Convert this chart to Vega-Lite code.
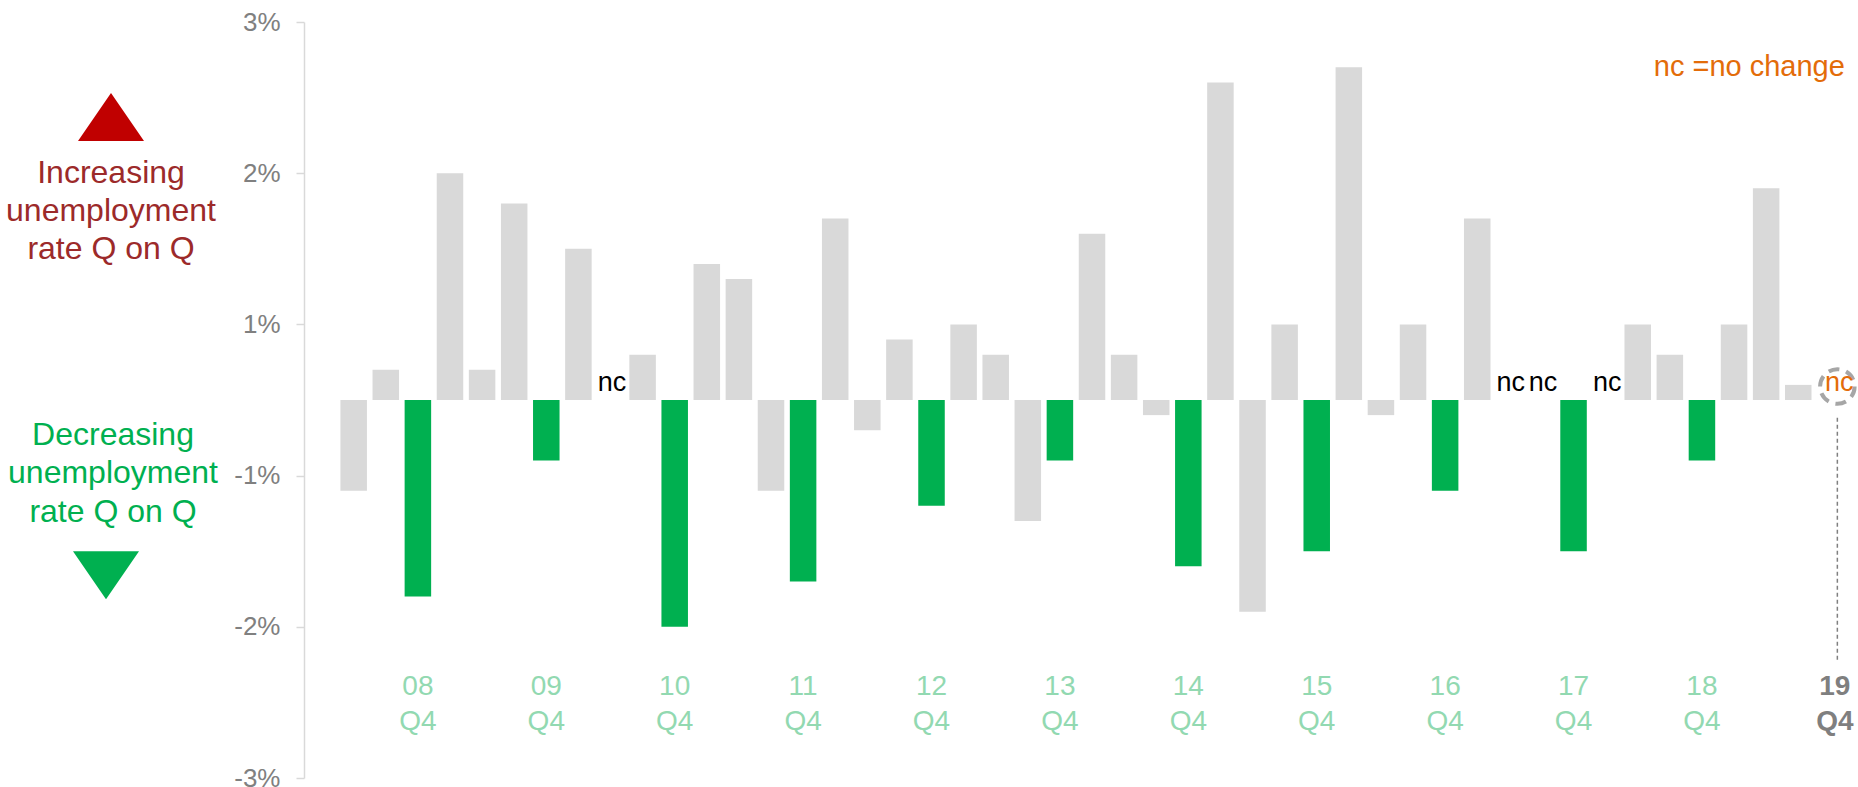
{
  "$schema": "https://vega.github.io/schema/vega-lite/v6.json",
  "padding": {"left": 0, "top": 9, "right": 0, "bottom": 0},
  "background": "white",
  "spacing": 11,
  "config": {"view": {"stroke": null}, "font": "Liberation Sans"},
  "hconcat": [
    {
      "width": 222,
      "height": 756,
      "data": {"values": [
        {"dir": "up", "label": "Increasing\nunemployment\nrate Q on Q"},
        {"dir": "down", "label": "Decreasing\nunemployment\nrate Q on Q"}
      ]},
      "layer": [
        {
          "transform": [{"filter": "datum.dir == 'up'"}],
          "mark": {"type": "point", "shape": "M-1,0.727L0,-0.727L1,0.727Z", "size": 4356, "filled": true, "color": "#c00000", "opacity": 1},
          "encoding": {"y": {"datum": 1.872, "type": "quantitative", "scale": {"domain": [-2.5, 2.5], "nice": false}, "axis": null}}
        },
        {
          "transform": [{"filter": "datum.dir == 'up'"}],
          "mark": {"type": "text", "fontSize": 32, "lineBreak": "\n", "lineHeight": 38, "baseline": "alphabetic", "align": "center", "color": "#9c2a2a"},
          "encoding": {"y": {"datum": 1.436, "type": "quantitative", "axis": null}, "text": {"field": "label"}}
        },
        {
          "transform": [{"filter": "datum.dir == 'down'"}],
          "mark": {"type": "text", "fontSize": 32, "lineBreak": "\n", "lineHeight": 38.5, "baseline": "alphabetic", "align": "center", "color": "#00b050", "dx": 2},
          "encoding": {"y": {"datum": -0.296, "type": "quantitative", "axis": null}, "text": {"field": "label"}}
        },
        {
          "transform": [{"filter": "datum.dir == 'down'"}],
          "mark": {"type": "point", "shape": "M-1,-0.727L1,-0.727L0,0.727Z", "size": 4356, "filled": true, "color": "#00b050", "opacity": 1, "xOffset": -5},
          "encoding": {"y": {"datum": -1.159, "type": "quantitative", "axis": null}}
        }
      ]
    },
    {
      "width": 1555,
      "height": 756,
      "data": {"values": [
        {"q": "08Q2", "v": -0.6, "kind": "other"},
        {"q": "08Q3", "v": 0.2, "kind": "other"},
        {"q": "08Q4", "v": -1.3, "kind": "Q4", "lbl": "08\nQ4"},
        {"q": "09Q1", "v": 1.5, "kind": "other"},
        {"q": "09Q2", "v": 0.2, "kind": "other"},
        {"q": "09Q3", "v": 1.3, "kind": "other"},
        {"q": "09Q4", "v": -0.4, "kind": "Q4", "lbl": "09\nQ4"},
        {"q": "10Q1", "v": 1.0, "kind": "other"},
        {"q": "10Q2", "v": 0, "kind": "other"},
        {"q": "10Q3", "v": 0.3, "kind": "other"},
        {"q": "10Q4", "v": -1.5, "kind": "Q4", "lbl": "10\nQ4"},
        {"q": "11Q1", "v": 0.9, "kind": "other"},
        {"q": "11Q2", "v": 0.8, "kind": "other"},
        {"q": "11Q3", "v": -0.6, "kind": "other"},
        {"q": "11Q4", "v": -1.2, "kind": "Q4", "lbl": "11\nQ4"},
        {"q": "12Q1", "v": 1.2, "kind": "other"},
        {"q": "12Q2", "v": -0.2, "kind": "other"},
        {"q": "12Q3", "v": 0.4, "kind": "other"},
        {"q": "12Q4", "v": -0.7, "kind": "Q4", "lbl": "12\nQ4"},
        {"q": "13Q1", "v": 0.5, "kind": "other"},
        {"q": "13Q2", "v": 0.3, "kind": "other"},
        {"q": "13Q3", "v": -0.8, "kind": "other"},
        {"q": "13Q4", "v": -0.4, "kind": "Q4", "lbl": "13\nQ4"},
        {"q": "14Q1", "v": 1.1, "kind": "other"},
        {"q": "14Q2", "v": 0.3, "kind": "other"},
        {"q": "14Q3", "v": -0.1, "kind": "other"},
        {"q": "14Q4", "v": -1.1, "kind": "Q4", "lbl": "14\nQ4"},
        {"q": "15Q1", "v": 2.1, "kind": "other"},
        {"q": "15Q2", "v": -1.4, "kind": "other"},
        {"q": "15Q3", "v": 0.5, "kind": "other"},
        {"q": "15Q4", "v": -1.0, "kind": "Q4", "lbl": "15\nQ4"},
        {"q": "16Q1", "v": 2.2, "kind": "other"},
        {"q": "16Q2", "v": -0.1, "kind": "other"},
        {"q": "16Q3", "v": 0.5, "kind": "other"},
        {"q": "16Q4", "v": -0.6, "kind": "Q4", "lbl": "16\nQ4"},
        {"q": "17Q1", "v": 1.2, "kind": "other"},
        {"q": "17Q2", "v": 0, "kind": "other"},
        {"q": "17Q3", "v": 0, "kind": "other"},
        {"q": "17Q4", "v": -1.0, "kind": "Q4", "lbl": "17\nQ4"},
        {"q": "18Q1", "v": 0, "kind": "other"},
        {"q": "18Q2", "v": 0.5, "kind": "other"},
        {"q": "18Q3", "v": 0.3, "kind": "other"},
        {"q": "18Q4", "v": -0.4, "kind": "Q4", "lbl": "18\nQ4"},
        {"q": "19Q1", "v": 0.5, "kind": "other"},
        {"q": "19Q2", "v": 1.4, "kind": "other"},
        {"q": "19Q3", "v": 0.1, "kind": "other"},
        {"q": "19Q4", "v": 0, "kind": "latest", "lbl": "19\nQ4"}
      ]},
      "layer": [
        {
          "mark": {"type": "bar"},
          "encoding": {
            "x": {"field": "q", "type": "nominal", "sort": null, "scale": {"paddingInner": 0.174, "paddingOuter": 0.807, "align": 0.703}, "axis": null},
            "y": {
              "field": "v", "type": "quantitative",
              "scale": {"domain": [-2.5, 2.5], "nice": false, "zero": true},
              "axis": {
                "values": [-2.5, -1.5, -0.5, 0.5, 1.5, 2.5],
                "labelExpr": "(datum.value > 0 ? datum.value + 0.5 : datum.value - 0.5) + '%'",
                "grid": false, "title": null,
                "domainColor": "#d9d9d9", "domainWidth": 1.5,
                "tickColor": "#d9d9d9", "tickWidth": 1.5, "tickSize": 8,
                "labelColor": "#808080", "labelFontSize": 26, "labelPadding": 16
              }
            },
            "color": {"field": "kind", "type": "nominal", "scale": {"domain": ["other", "Q4", "latest"], "range": ["#d9d9d9", "#00b050", "#d9d9d9"]}, "legend": null}
          }
        },
        {
          "transform": [{"filter": "datum.v == 0 && datum.kind != 'latest'"}],
          "mark": {"type": "text", "text": "nc", "fontSize": 27, "color": "#000000", "baseline": "alphabetic", "dy": -9, "dx": 1.5},
          "encoding": {
            "x": {"field": "q", "type": "nominal", "sort": null},
            "y": {"datum": 0, "type": "quantitative"}
          }
        },
        {
          "transform": [{"filter": "datum.kind == 'Q4'"}],
          "mark": {"type": "text", "fontSize": 28, "color": "#92d9b1", "baseline": "alphabetic", "lineBreak": "\n", "lineHeight": 35},
          "encoding": {
            "x": {"field": "q", "type": "nominal", "sort": null},
            "y": {"datum": -1.949, "type": "quantitative"},
            "text": {"field": "lbl"}
          }
        },
        {
          "transform": [{"filter": "datum.kind == 'latest'"}],
          "mark": {"type": "text", "fontSize": 28, "fontWeight": "bold", "color": "#7f7f7f", "baseline": "alphabetic", "lineBreak": "\n", "lineHeight": 35, "dx": 4.5},
          "encoding": {
            "x": {"field": "q", "type": "nominal", "sort": null},
            "y": {"datum": -1.949, "type": "quantitative"},
            "text": {"field": "lbl"}
          }
        },
        {
          "transform": [{"filter": "datum.kind == 'latest'"}],
          "mark": {"type": "rule", "color": "#808080", "strokeWidth": 1.5, "strokeDash": [4, 3], "xOffset": 7},
          "encoding": {
            "x": {"field": "q", "type": "nominal", "sort": null},
            "y": {"datum": -0.118, "type": "quantitative"},
            "y2": {"datum": -1.729}
          }
        },
        {
          "transform": [{"filter": "datum.kind == 'latest'"}],
          "mark": {"type": "point", "shape": "circle", "size": 1195, "filled": false, "color": "#a6a6a6", "strokeWidth": 4, "strokeDash": [11, 7], "opacity": 1, "xOffset": 7},
          "encoding": {
            "x": {"field": "q", "type": "nominal", "sort": null},
            "y": {"datum": 0.089, "type": "quantitative"}
          }
        },
        {
          "transform": [{"filter": "datum.kind == 'latest'"}],
          "mark": {"type": "text", "text": "nc", "fontSize": 27, "color": "#e36c09", "baseline": "alphabetic", "dy": -9, "dx": 9},
          "encoding": {
            "x": {"field": "q", "type": "nominal", "sort": null},
            "y": {"datum": 0, "type": "quantitative"}
          }
        },
        {
          "data": {"values": [{"note": "nc =no change"}]},
          "mark": {"type": "text", "fontSize": 29, "color": "#e36c09", "align": "right", "baseline": "alphabetic", "dx": 14.5},
          "encoding": {
            "x": {"datum": "19Q4", "type": "nominal"},
            "y": {"datum": 2.143, "type": "quantitative"},
            "text": {"field": "note"}
          }
        }
      ]
    }
  ]
}
